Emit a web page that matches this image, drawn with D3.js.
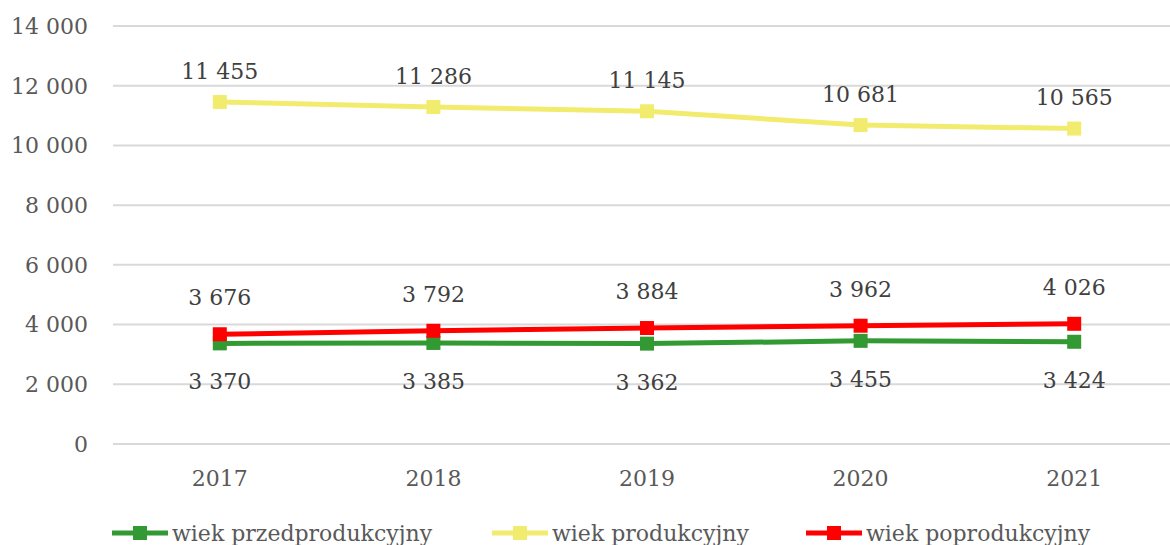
<!DOCTYPE html>
<html><head><meta charset="utf-8">
<script src="https://cdn.jsdelivr.net/npm/d3@7"></script>
<style>body{margin:0;background:#fff}svg{display:block}</style>
</head><body>
<script>
const years = ["2017","2018","2019","2020","2021"];
const przed = [3370,3385,3362,3455,3424];
const prod = [11455,11286,11145,10681,10565];
const popro = [3676,3792,3884,3962,4026];
const yTicks = [0,2000,4000,6000,8000,10000,12000,14000];
const seriesNames = ["wiek przedprodukcyjny","wiek produkcyjny","wiek poprodukcyjny"];

const W=1170,H=545;
const font="'DejaVu Serif', serif";
const txt="#595959";
const svg=d3.select("body").append("svg").attr("width",W).attr("height",H);
const x=d3.scaleBand().domain(years).range([113,1181]).padding(0);
const y=d3.scaleLinear().domain([0,14000]).range([444,26]);
const fmt=v=>d3.format(",")(v).replace(/,/g," ");

svg.append("g").selectAll("line").data(yTicks).join("line")
 .attr("x1",113).attr("x2",W).attr("y1",d=>y(d)).attr("y2",d=>y(d))
 .attr("stroke","#d9d9d9").attr("stroke-width",2);
svg.append("g").selectAll("text").data(yTicks).join("text")
 .attr("x",88).attr("y",d=>y(d)).attr("dy","0.36em").attr("text-anchor","end")
 .attr("font-family",font).attr("font-size",22).attr("fill",txt).text(fmt);
svg.append("g").selectAll("text").data(years).join("text")
 .attr("x",d=>x(d)+x.bandwidth()/2).attr("y",478).attr("dy","0.36em").attr("text-anchor","middle")
 .attr("font-family",font).attr("font-size",22).attr("fill",txt).text(d=>d);

const series=[
 {name:seriesNames[0],vals:przed,color:"#339933",off:38},
 {name:seriesNames[1],vals:prod,color:"#f2ec6e",off:-31},
 {name:seriesNames[2],vals:popro,color:"#ff0000",off:-37}
];
const cx=d=>x(d)+x.bandwidth()/2;
const line=d3.line().x((v,i)=>cx(years[i])).y(v=>y(v));
series.forEach(s=>{
 const g=svg.append("g");
 g.append("path").attr("d",line(s.vals)).attr("fill","none").attr("stroke",s.color).attr("stroke-width",5);
 g.selectAll("rect").data(s.vals).join("rect")
  .attr("x",(v,i)=>cx(years[i])-7).attr("y",v=>y(v)-7).attr("width",14).attr("height",14).attr("fill",s.color);
 g.selectAll("text").data(s.vals).join("text")
  .attr("x",(v,i)=>cx(years[i])).attr("y",v=>y(v)+s.off).attr("dy","0.36em").attr("text-anchor","middle")
  .attr("font-family",font).attr("font-size",22).attr("fill","#404040").text(fmt);
});

const legX=[112,492,806];
series.forEach((s,i)=>{
 const g=svg.append("g").attr("transform",`translate(${legX[i]},533)`);
 g.append("line").attr("x1",0).attr("x2",56).attr("stroke",s.color).attr("stroke-width",5);
 g.append("rect").attr("x",21).attr("y",-7).attr("width",14).attr("height",14).attr("fill",s.color);
 g.append("text").attr("x",60).attr("y",0).attr("dy","0.36em").attr("font-family",font).attr("font-size",22).attr("fill",txt).text(s.name);
});
</script>
</body></html>
